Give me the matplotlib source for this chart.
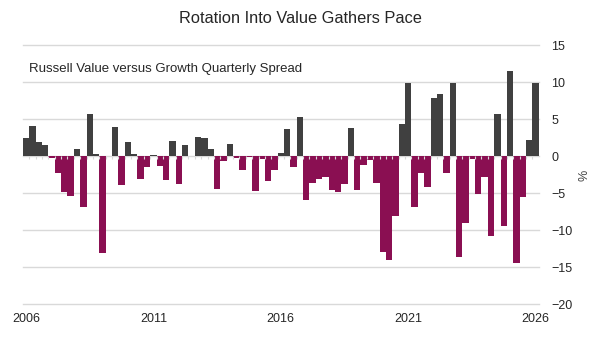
import numpy as np
import matplotlib
matplotlib.use('Agg')
import matplotlib.pyplot as plt

plt.rcParams['font.family'] = ['Liberation Sans', 'DejaVu Sans']

# quarterly spread, value minus growth (%), 2006 Q1 .. 2026 Q1
spread = [
	2.5, 4.1, 1.9, 1.6, -0.2, -2.3, -4.8, -5.4, 1.0, -6.9,
	5.7, 0.3, -13.0, 0.0, 4.0, -3.9, 1.9, 0.3, -3.1, -1.5,
	0.2, -1.3, -3.2, 2.1, -3.8, 1.6, 0.1, 2.6, 2.5, 1.0,
	-4.4, -0.6, 1.7, -0.2, -1.9, -0.1, -4.7, -0.3, -3.3, -1.9,
	0.5, 3.7, -1.4, 5.3, -5.9, -3.6, -3.0, -2.8, -4.5, -4.8,
	-3.8, 3.9, -4.5, -1.1, -0.5, -3.6, -12.9, -14.0, -8.0, 4.4,
	9.9, -6.9, -2.3, -4.1, 7.9, 8.4, -2.3, 9.9, -13.6, -9.0,
	-0.3, -5.1, -2.8, -10.8, 5.8, -9.4, 11.6, -14.4, -5.5, 2.2,
	9.9,
]
year_labels = ['2006', '2011', '2016', '2021', '2026']
y_ticks = [15, 10, 5, 0, -5, -10, -15, -20]

pos_color = '#404040'
neg_color = '#8a0f52'
grid_color = '#d9d9d9'

spread = np.array(spread)
x = np.arange(len(spread))
colors = [pos_color if v >= 0 else neg_color for v in spread]

fig = plt.figure(figsize=(6, 3.58), dpi=100)
ax = fig.add_axes([0.038, 0.150, 0.860, 0.723])

ax.bar(x, spread, width=1.0, color=colors, zorder=2)

# gridlines and zero axis with small category ticks
for t in y_ticks:
	ax.axhline(t, color=grid_color, lw=1, zorder=1, clip_on=False)
ax.vlines(x[1:] - 0.5, -0.35, 0, color=grid_color, lw=0.8, zorder=3)

ax.set_xlim(-0.5, len(spread) - 0.5)
ax.set_ylim(-20, 15)
ax.set_xticks(x[::20])
ax.set_xticklabels(year_labels)
ax.set_yticks(y_ticks)
ax.yaxis.tick_right()
ax.yaxis.set_label_position('right')
ax.set_ylabel('%', fontsize=9, color='#404040', labelpad=4)
ax.tick_params(axis='both', length=0, labelsize=9, colors='#262626')
ax.tick_params(axis='y', pad=9)
ax.tick_params(axis='x', pad=6)
for s in ax.spines.values():
	s.set_visible(False)

ax.text(0.012, 0.91, 'Russell Value versus Growth Quarterly Spread',
        transform=ax.transAxes, fontsize=9.5, color='#262626', va='center')
fig.text(0.5, 0.948, 'Rotation Into Value Gathers Pace', ha='center',
         va='center', fontsize=11.8, color='#262626')

fig.savefig('out.png', dpi=100)
